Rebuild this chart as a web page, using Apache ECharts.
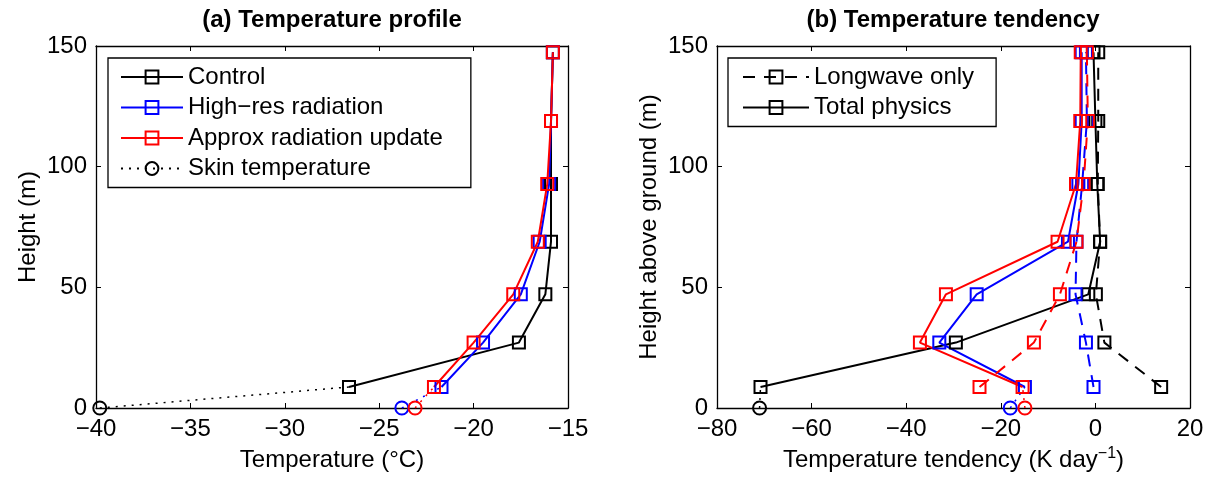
<!DOCTYPE html>
<html>
<head>
<meta charset="utf-8">
<script src="https://cdn.jsdelivr.net/npm/echarts@6/dist/echarts.min.js"></script>
<style>
  html, body { margin: 0; padding: 0; background: #fff; }
  #chart { width: 1209px; height: 482px; }
</style>
</head>
<body>
<div id="chart"></div>
<script>
// ---- Data ----
const heights = [8.7, 27.1, 47.1, 68.9, 92.8, 118.9, 147.4];   // m

// (a) Temperature profile (°C)
const tempControl = [-26.6, -17.6, -16.2, -15.9, -15.9, -15.9, -15.8];
const tempHighRes = [-21.7, -19.5, -17.5, -16.5, -16.0, -15.9, -15.8];
const tempApprox  = [-22.1, -20.0, -17.9, -16.6, -16.1, -15.9, -15.8];
const skinTemp    = [-39.8, -23.8, -23.1];   // control, high-res, approx (at 0 m)

// (b) Temperature tendency (K/day)
const totControl = [-70.8, -29.5, -1.5, 1.0, 0.4, 0.0, -0.4];
const totHighRes = [-14.9, -33.0, -25.1, -5.8, -3.6, -2.9, -2.9];
const totApprox  = [-15.4, -37.1, -31.6, -8.0, -4.1, -3.2, -3.1];
const lwControl  = [13.9, 1.9, 0.1, 1.0, 0.5, 0.6, 0.6];
const lwHighRes  = [-0.4, -2.0, -4.2, -4.0, -2.8, -1.8, -2.0];
const lwApprox   = [-24.5, -13.0, -7.5, -4.0, -2.5, -1.6, -1.8];
const skinTend   = [-71.0, -18.0, -14.9];   // control, high-res, approx (at 0 m)

const skinHeight = 0;
const namesA = ['Control', 'High\u2212res radiation', 'Approx radiation update', 'Skin temperature'];
const namesB = ['Longwave only', 'Total physics'];
const xTicksA = [-40, -35, -30, -25, -20, -15];
const xTicksB = [-80, -60, -40, -20, 0, 20];
const yTicks = [0, 50, 100, 150];

// ---- Styling ----
const FONT = 'Liberation Sans';
const COLORS = ['#000000', '#0000ff', '#ff0000'];
const fmtMinus = v => (v < 0 ? '\u2212' + Math.abs(v) : String(v));

function pairs(xs) { return heights.map((h, i) => [xs[i], h]); }

function profileSeries(name, xs, color, xi, yi, dashed) {
  return {
    type: 'line', name: name, xAxisIndex: xi, yAxisIndex: yi,
    data: pairs(xs),
    symbol: 'rect', symbolSize: 12,
    lineStyle: { color: color, width: 2, type: dashed ? [12, 9] : 'solid' },
    itemStyle: { color: 'rgba(255,255,255,0)', borderColor: color, borderWidth: 2 },
    emphasis: { disabled: true }, animation: false, z: 3
  };
}
function skinSeries(name, skinX, lowX, color, xi, yi) {
  return {
    type: 'line', name: name, xAxisIndex: xi, yAxisIndex: yi,
    data: [
      { value: [skinX, skinHeight], symbol: 'circle' },
      { value: [lowX, heights[0]], symbol: 'none' }
    ],
    symbol: 'circle', symbolSize: 13,
    lineStyle: { color: color, width: 1.5, type: [2, 6] },
    itemStyle: { color: 'rgba(255,255,255,0)', borderColor: color, borderWidth: 2 },
    emphasis: { disabled: true }, animation: false, z: 2
  };
}

function boxAxes(gridIndex, xmin, xmax, xint, xname, nameRich) {
  const tick = { show: true, inside: true, length: 5, lineStyle: { color: '#000', width: 1 } };
  const line = { show: true, onZero: false, lineStyle: { color: '#000', width: 1.3 } };
  return [
    {
      type: 'value', gridIndex: gridIndex, position: 'bottom', min: xmin, max: xmax, interval: xint,
      axisLine: line, axisTick: tick, splitLine: { show: false },
      axisLabel: { color: '#000', fontSize: 24, fontFamily: FONT, margin: 9, formatter: fmtMinus },
      name: xname, nameLocation: 'middle', nameGap: 33,
      nameTextStyle: Object.assign({ color: '#000', fontSize: 24, fontFamily: FONT, lineHeight: 28 },
        nameRich ? { rich: nameRich } : {})
    },
    {
      type: 'value', gridIndex: gridIndex, position: 'top', min: xmin, max: xmax, interval: xint,
      axisLine: line, axisTick: tick, splitLine: { show: false }, axisLabel: { show: false }
    }
  ];
}
function boxYAxes(gridIndex, yname) {
  const tick = { show: true, inside: true, length: 5, lineStyle: { color: '#000', width: 1 } };
  const line = { show: true, onZero: false, lineStyle: { color: '#000', width: 1.3 } };
  return [
    {
      type: 'value', gridIndex: gridIndex, position: 'left', min: yTicks[0], max: yTicks[yTicks.length - 1],
      interval: yTicks[1] - yTicks[0],
      axisLine: line, axisTick: tick, splitLine: { show: false },
      axisLabel: { color: '#000', fontSize: 24, fontFamily: FONT, margin: 9 },
      name: yname, nameLocation: 'middle', nameGap: 56,
      nameTextStyle: { color: '#000', fontSize: 24, fontFamily: FONT }
    },
    {
      type: 'value', gridIndex: gridIndex, position: 'right', min: yTicks[0], max: yTicks[yTicks.length - 1],
      interval: yTicks[1] - yTicks[0],
      axisLine: line, axisTick: tick, splitLine: { show: false }, axisLabel: { show: false }
    }
  ];
}

const xAxes = [].concat(
  boxAxes(0, xTicksA[0], xTicksA[xTicksA.length - 1], xTicksA[1] - xTicksA[0], 'Temperature (\u00b0C)'),
  boxAxes(1, xTicksB[0], xTicksB[xTicksB.length - 1], xTicksB[1] - xTicksB[0],
    'Temperature tendency (K day{sup|\u22121})',
    { sup: { fontSize: 16, fontFamily: FONT, color: '#000', verticalAlign: 'top', lineHeight: 16 } })
);
const yAxes = [].concat(boxYAxes(0, 'Height (m)'), boxYAxes(1, 'Height above ground (m)'));

const series = [
  // (a)
  skinSeries(namesA[3], skinTemp[0], tempControl[0], COLORS[0], 0, 0),
  skinSeries('skin-highres', skinTemp[1], tempHighRes[0], COLORS[1], 0, 0),
  skinSeries('skin-approx', skinTemp[2], tempApprox[0], COLORS[2], 0, 0),
  profileSeries(namesA[0], tempControl, COLORS[0], 0, 0, false),
  profileSeries(namesA[1], tempHighRes, COLORS[1], 0, 0, false),
  profileSeries(namesA[2], tempApprox, COLORS[2], 0, 0, false),
  // (b)
  skinSeries('skinT-control', skinTend[0], totControl[0], COLORS[0], 2, 2),
  skinSeries('skinT-highres', skinTend[1], totHighRes[0], COLORS[1], 2, 2),
  skinSeries('skinT-approx', skinTend[2], totApprox[0], COLORS[2], 2, 2),
  profileSeries(namesB[0], lwControl, COLORS[0], 2, 2, true),
  profileSeries(namesB[1], totControl, COLORS[0], 2, 2, false),
  profileSeries('lw-highres', lwHighRes, COLORS[1], 2, 2, true),
  profileSeries('tot-highres', totHighRes, COLORS[1], 2, 2, false),
  profileSeries('lw-approx', lwApprox, COLORS[2], 2, 2, true),
  profileSeries('tot-approx', totApprox, COLORS[2], 2, 2, false)
];

const legendText = { color: '#000', fontSize: 24, fontFamily: FONT, lineHeight: 24 };

const option = {
  backgroundColor: '#fff',
  animation: false,
  title: [
    { text: '(a) Temperature profile', left: 332, top: 8, textAlign: 'center', padding: 0,
      textStyle: { fontSize: 24, fontWeight: 'bold', fontFamily: FONT, color: '#000' } },
    { text: '(b) Temperature tendency', left: 953, top: 8, textAlign: 'center', padding: 0,
      textStyle: { fontSize: 24, fontWeight: 'bold', fontFamily: FONT, color: '#000' } }
  ],
  grid: [
    { left: 96, right: 1209 - 568, top: 46, bottom: 482 - 408, containLabel: false },
    { left: 717, right: 1209 - 1190, top: 46, bottom: 482 - 408, containLabel: false }
  ],
  xAxis: xAxes,
  yAxis: yAxes,
  legend: [
    { data: namesA, orient: 'vertical', left: 108, top: 58, itemWidth: 62, itemHeight: 16, itemGap: 6.5,
      padding: [7, 28, 7, 12], borderColor: '#000', borderWidth: 1.3, backgroundColor: '#fff',
      selectedMode: false, textStyle: legendText },
    { data: namesB, orient: 'vertical', left: 728, top: 58, itemWidth: 66, itemHeight: 16, itemGap: 6.5,
      padding: [7, 22, 7, 14], borderColor: '#000', borderWidth: 1.3, backgroundColor: '#fff',
      selectedMode: false, textStyle: legendText }
  ],
  series: series
};

const chart = echarts.init(document.getElementById('chart'), null, { renderer: 'canvas' });
chart.setOption(option);
</script>
</body>
</html>
